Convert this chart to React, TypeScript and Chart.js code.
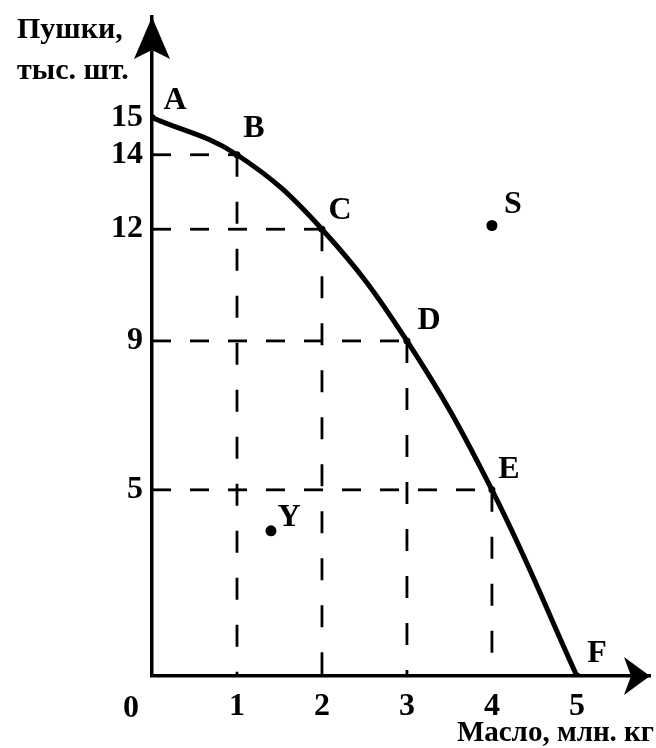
import React, { useEffect, useRef } from "react";
import { Chart, registerables } from "chart.js";

Chart.register(...registerables);

// ---- data ----
const butter = [0, 1, 2, 3, 4, 5]; // млн. кг
const guns = [15, 14, 12, 9, 5, 0]; // тыс. шт.
const pointNames = ["A", "B", "C", "D", "E", "F"];
const extraNames = ["S", "Y"];
const extraButter = [4, 1.4];
const extraGuns = [12.1, 3.9];
const yTickValues = [5, 9, 12, 14, 15];
const xTickValues = [1, 2, 3, 4, 5];
const xTitle = "Масло, млн. кг";
const yTitleLines = ["Пушки,", "тыс. шт."];
const originLabel = "0";

// ---- styles ----
const FONT = "'Liberation Serif', 'Times New Roman', serif";
const labelOffsets: Record<string, [number, number]> = {
  A: [23, -17],
  B: [17, -26],
  C: [18, -18],
  D: [22, -20],
  E: [17, -20],
  F: [20, -22],
  S: [21, -21],
  Y: [18, -13],
};

const annotate = {
  id: "annotate",
  afterDatasetsDraw(chart: any) {
    const { ctx, chartArea, scales } = chart;
    const xs = scales.x;
    const ys = scales.y;
    const ox = chartArea.left;
    const oy = chartArea.bottom;
    ctx.save();
    ctx.fillStyle = "#000";
    // y arrow
    const top = chartArea.top;
    ctx.beginPath();
    ctx.moveTo(ox, top);
    ctx.lineTo(ox - 18, top + 42);
    ctx.lineTo(ox, top + 33);
    ctx.lineTo(ox + 18, top + 42);
    ctx.closePath();
    ctx.fill();
    // x arrow
    const right = chartArea.right;
    ctx.beginPath();
    ctx.moveTo(right, oy);
    ctx.lineTo(right - 26, oy - 19);
    ctx.lineTo(right - 19, oy);
    ctx.lineTo(right - 26, oy + 19);
    ctx.closePath();
    ctx.fill();

    // point labels
    ctx.font = `bold 32px ${FONT}`;
    ctx.textAlign = "center";
    ctx.textBaseline = "middle";
    pointNames.forEach((n, i) => {
      const px = xs.getPixelForValue(butter[i]);
      const py = ys.getPixelForValue(guns[i]);
      const [dx, dy] = labelOffsets[n];
      ctx.fillText(n, px + dx, py + dy);
    });
    extraNames.forEach((n, i) => {
      const px = xs.getPixelForValue(extraButter[i]);
      const py = ys.getPixelForValue(extraGuns[i]);
      const [dx, dy] = labelOffsets[n];
      ctx.fillText(n, px + dx, py + dy);
    });

    // origin label
    ctx.font = `bold 32px ${FONT}`;
    ctx.fillText(originLabel, ox - 21, oy + 33);

    // axis titles
    ctx.textBaseline = "alphabetic";
    ctx.font = `bold 30px ${FONT}`;
    ctx.textAlign = "left";
    ctx.fillText(yTitleLines[0], 17, 38);
    ctx.fillText(yTitleLines[1], 17, 79);
    ctx.textAlign = "right";
    ctx.font = `bold 29px ${FONT}`;
    ctx.fillText(xTitle, 654, 741);
    ctx.restore();
  },
};

export default function App() {
  const ref = useRef<HTMLCanvasElement | null>(null);
  useEffect(() => {
    if (!ref.current) return;
    const curve = butter.map((b, i) => ({ x: b, y: guns[i] }));
    const inner = butter
      .map((b, i) => ({ b, g: guns[i] }))
      .filter((p) => p.b > 0 && p.g > 0);
    const guideStyle = {
      borderColor: "#000",
      borderWidth: 2.8,
      pointRadius: 0,
      tension: 0,
      showLine: true,
      fill: false,
    };
    const hGuides = inner.map((p) => ({
      ...guideStyle,
      borderDash: [19, 19],
      data: [
        { x: 0, y: p.g },
        { x: p.b, y: p.g },
      ],
    }));
    const vGuides = inner.map((p) => ({
      ...guideStyle,
      borderDash: [22, 25],
      data: [
        { x: p.b, y: p.g },
        { x: p.b, y: 0 },
      ],
    }));
    const chart = new Chart(ref.current, {
      type: "scatter",
      data: {
        datasets: [
          {
            data: curve,
            showLine: true,
            borderColor: "#000",
            borderWidth: 5,
            tension: 0.4,
            pointRadius: 3.5,
            pointBackgroundColor: "#000",
            pointBorderWidth: 0,
            fill: false,
          } as any,
          {
            data: extraButter.map((b, i) => ({ x: b, y: extraGuns[i] })),
            showLine: false,
            pointRadius: 5.5,
            pointBackgroundColor: "#000",
            pointBorderWidth: 0,
          },
          ...hGuides,
          ...vGuides,
        ],
      },
      options: {
        responsive: false,
        animation: false,
        events: [],
        layout: { padding: { top: 17, right: 6, left: 0, bottom: 0 } },
        plugins: { legend: { display: false }, tooltip: { enabled: false } },
        scales: {
          x: {
            type: "linear",
            min: 0,
            max: 5.86,
            grid: { display: false, drawTicks: false },
            border: { display: true, color: "#000", width: 3.5 },
            afterFit: (s: any) => {
              s.height = 72;
              s.paddingLeft = 0;
              s.paddingRight = 0;
            },
            afterBuildTicks: (s: any) => {
              s.ticks = xTickValues.map((v) => ({ value: v }));
            },
            ticks: {
              autoSkip: false,
              maxRotation: 0,
              padding: 12,
              color: "#000",
              font: { family: FONT, weight: "bold", size: 32 },
            },
          },
          y: {
            type: "linear",
            min: 0,
            max: 17.7,
            grid: { display: false, drawTicks: false },
            border: { display: true, color: "#000", width: 3.5 },
            afterFit: (s: any) => {
              s.width = 152;
              s.paddingTop = 0;
              s.paddingBottom = 0;
            },
            afterBuildTicks: (s: any) => {
              s.ticks = yTickValues.map((v) => ({ value: v }));
            },
            ticks: {
              autoSkip: false,
              padding: 9,
              color: "#000",
              font: { family: FONT, weight: "bold", size: 32 },
            },
          },
        },
      },
      plugins: [annotate],
    });
    return () => chart.destroy();
  }, []);
  return (
    <div style={{ position: "absolute", left: 0, top: 0, width: 656, height: 748, background: "#fff" }}>
      <canvas ref={ref} width={656} height={748} style={{ width: 656, height: 748, display: "block" }} />
    </div>
  );
}
